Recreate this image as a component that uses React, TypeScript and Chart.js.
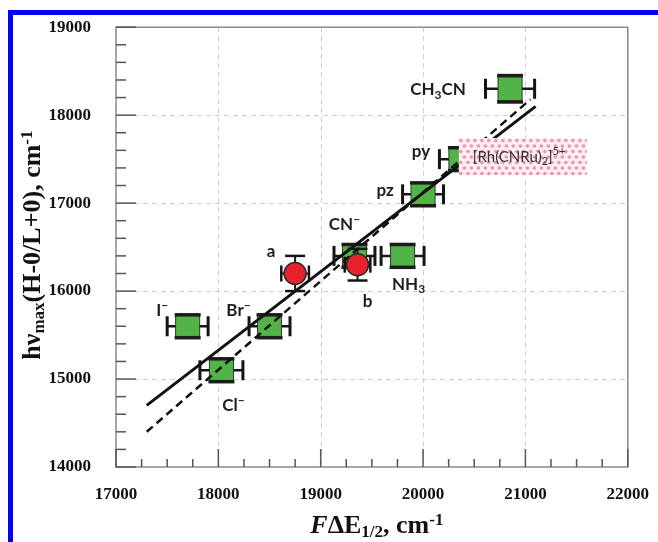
import React, { useEffect, useRef } from 'react';
import { Chart, registerables } from 'chart.js';
Chart.register(...registerables);

// ---- data ----
const ligandX = [17700, 18500, 18030, 19330, 19800, 20000, 20370, 20850];
const ligandY = [15600, 15600, 15100, 16400, 16400, 17100, 17500, 18300];
const ligandXErr = [200, 200, 210, 200, 210, 200, 210, 240];
const ligandYErr = [130, 130, 130, 130, 130, 130, 130, 150];

const complexX = [18750, 19360];
const complexY = [16200, 16300];
const complexXErr = [135, 125];
const complexYErr = [200, 180];

const solidFitX = [17300, 21100];
const solidFitY = [14700, 18100];
const dashedFitX = [17300, 21050];
const dashedFitY = [14400, 18180];

const rhBandX = [20350, 21600];
const rhBandY = [17320, 17740];

const xTicks = [17000, 18000, 19000, 20000, 21000, 22000];
const yTicks = [14000, 15000, 16000, 17000, 18000, 19000];
const xMinorStep = 250;
const yMinorStep = 200;

type Seg = { t: string; s?: 'sub' | 'sup'; italic?: boolean };

const ligandLabels: Seg[][] = [
  [{ t: 'I' }, { t: '−', s: 'sup' }],
  [{ t: 'Br' }, { t: '−', s: 'sup' }],
  [{ t: 'Cl' }, { t: '−', s: 'sup' }],
  [{ t: 'CN' }, { t: '−', s: 'sup' }],
  [{ t: 'NH' }, { t: '3', s: 'sub' }],
  [{ t: 'pz' }],
  [{ t: 'py' }],
  [{ t: 'CH' }, { t: '3', s: 'sub' }, { t: 'CN' }],
];
const complexLabels: Seg[][] = [[{ t: 'a' }], [{ t: 'b' }]];
const rhLabel: Seg[] = [{ t: '[Rh(CNRu)' }, { t: '2', s: 'sub' }, { t: ']' }, { t: '5+', s: 'sup' }];
const xTitle: Seg[] = [{ t: 'F', italic: true }, { t: 'ΔE' }, { t: '1/2', s: 'sub' }, { t: ', cm' }, { t: '-1', s: 'sup' }];
const yTitle: Seg[] = [{ t: 'hν' }, { t: 'max', s: 'sub' }, { t: '(H-0/L+0), cm' }, { t: '-1', s: 'sup' }];

// ---- styles (pixel offsets of labels: center-x offset, baseline offset) ----
const ligandLabelOffsets = [
  [-25.5, -10.5], [-31, -10], [12, 40.5], [-10, -26], [6, 34], [-38, 2], [-40, -2.5], [-72, 6.5],
];
const complexLabelOffsets = [[-24, -16], [10, 42.5]];

const SERIF = "'Liberation Serif', 'Times New Roman', serif";
const SANS = "Lato, 'Open Sans', sans-serif";

function drawRich(
  ctx: CanvasRenderingContext2D, segs: Seg[], x: number, y: number, size: number,
  family: string, weight: string, align: 'center' | 'left', color: string,
  subShift = 0.2, supShift = 0.4, ratio = 0.65,
) {
  const fontFor = (s: Seg) =>
    `${s.italic ? 'italic ' : ''}${weight} ${s.s ? Math.round(size * ratio) : size}px ${family}`;
  let total = 0;
  const widths = segs.map((s) => {
    ctx.font = fontFor(s);
    const w = ctx.measureText(s.t).width;
    total += w;
    return w;
  });
  let cx = align === 'center' ? x - total / 2 : x;
  ctx.fillStyle = color;
  ctx.textAlign = 'left';
  segs.forEach((s, i) => {
    ctx.font = fontFor(s);
    const dy = s.s === 'sub' ? size * subShift : s.s === 'sup' ? -size * supShift : 0;
    ctx.fillText(s.t, cx, y + dy);
    cx += widths[i];
  });
}

const decorPlugin = {
  id: 'decor',
  beforeDraw(chart: any) {
    const ctx = chart.ctx as CanvasRenderingContext2D;
    ctx.save();
    ctx.fillStyle = '#ffffff';
    ctx.fillRect(0, 0, chart.width, chart.height);
    ctx.fillStyle = '#0000ff';
    ctx.fillRect(8, 10, chart.width - 8, 5);
    ctx.fillRect(8, 10, 5, chart.height - 10);
    ctx.restore();
  },
  beforeDatasetsDraw(chart: any) {
    const ctx = chart.ctx as CanvasRenderingContext2D;
    const xs = chart.scales.x;
    const ys = chart.scales.y;
    const { left, right, top, bottom } = chart.chartArea;
    ctx.save();
    ctx.strokeStyle = '#cfcfcf';
    ctx.lineWidth = 1;
    ctx.setLineDash([5, 4]);
    yTicks.slice(1, -1).forEach((v) => {
      const p = Math.round(ys.getPixelForValue(v)) + 0.5;
      ctx.beginPath(); ctx.moveTo(left, p); ctx.lineTo(right, p); ctx.stroke();
    });
    xTicks.slice(1, -1).forEach((v) => {
      const p = Math.round(xs.getPixelForValue(v)) + 0.5;
      ctx.beginPath(); ctx.moveTo(p, top); ctx.lineTo(p, bottom); ctx.stroke();
    });
    ctx.setLineDash([]);
    ctx.strokeStyle = '#8a8a8a';
    ctx.lineWidth = 1.5;
    ctx.strokeRect(left, top, right - left, bottom - top);
    ctx.strokeStyle = '#555';
    ctx.lineWidth = 1.5;
    for (let v = yTicks[0]; v <= yTicks[yTicks.length - 1]; v += yMinorStep) {
      const p = ys.getPixelForValue(v);
      const major = yTicks.includes(v);
      ctx.beginPath(); ctx.moveTo(left, p); ctx.lineTo(left + (major ? 20 : 10), p); ctx.stroke();
    }
    for (let v = xTicks[0]; v <= xTicks[xTicks.length - 1]; v += xMinorStep) {
      const p = xs.getPixelForValue(v);
      const major = xTicks.includes(v);
      ctx.beginPath(); ctx.moveTo(p, bottom); ctx.lineTo(p, bottom - (major ? 18 : 8)); ctx.stroke();
    }
    ctx.restore();
  },
  beforeDatasetDraw(chart: any, args: any) {
    const ctx = chart.ctx as CanvasRenderingContext2D;
    const xs = chart.scales.x;
    const ys = chart.scales.y;
    const ds = chart.data.datasets[args.index];
    ctx.save();
    ctx.strokeStyle = '#151515';
    if (ds.label === 'ligands') {
      ligandX.forEach((x, i) => {
        const py = ys.getPixelForValue(ligandY[i]);
        const x1 = xs.getPixelForValue(x - ligandXErr[i]);
        const x2 = xs.getPixelForValue(x + ligandXErr[i]);
        ctx.lineWidth = 2.5;
        ctx.beginPath(); ctx.moveTo(x1, py); ctx.lineTo(x2, py); ctx.stroke();
        ctx.lineWidth = 3;
        [x1, x2].forEach((xx) => {
          ctx.beginPath(); ctx.moveTo(xx, py - 10); ctx.lineTo(xx, py + 10); ctx.stroke();
        });
      });
    }
    if (ds.label === 'complexes') {
      complexX.forEach((x, i) => {
        const px = xs.getPixelForValue(x);
        const py = ys.getPixelForValue(complexY[i]);
        const x1 = xs.getPixelForValue(x - complexXErr[i]);
        const x2 = xs.getPixelForValue(x + complexXErr[i]);
        const y1 = ys.getPixelForValue(complexY[i] + complexYErr[i]);
        const y2 = ys.getPixelForValue(complexY[i] - complexYErr[i]);
        ctx.lineWidth = 2;
        ctx.beginPath(); ctx.moveTo(x1, py); ctx.lineTo(x2, py); ctx.stroke();
        ctx.beginPath(); ctx.moveTo(px, y1); ctx.lineTo(px, y2); ctx.stroke();
        ctx.lineWidth = 2.5;
        [x1, x2].forEach((xx) => {
          ctx.beginPath(); ctx.moveTo(xx, py - 8); ctx.lineTo(xx, py + 8); ctx.stroke();
        });
        [y1, y2].forEach((yy) => {
          ctx.beginPath(); ctx.moveTo(px - 10, yy); ctx.lineTo(px + 10, yy); ctx.stroke();
        });
      });
    }
    ctx.restore();
  },
  afterDatasetDraw(chart: any, args: any) {
    const ctx = chart.ctx as CanvasRenderingContext2D;
    const xs = chart.scales.x;
    const ys = chart.scales.y;
    const ds = chart.data.datasets[args.index];
    if (ds.label !== 'ligands') return;
    ctx.save();
    ctx.strokeStyle = '#1c1c1c';
    ctx.lineWidth = 3.5;
    ligandX.forEach((x, i) => {
      const px = xs.getPixelForValue(x);
      [ligandY[i] + ligandYErr[i], ligandY[i] - ligandYErr[i]].forEach((v) => {
        const yy = ys.getPixelForValue(v);
        ctx.beginPath(); ctx.moveTo(px - 13, yy); ctx.lineTo(px + 13, yy); ctx.stroke();
      });
    });
    ctx.restore();
  },
  afterDatasetsDraw(chart: any) {
    const ctx = chart.ctx as CanvasRenderingContext2D;
    const xs = chart.scales.x;
    const ys = chart.scales.y;
    ctx.save();
    const bx1 = xs.getPixelForValue(rhBandX[0]);
    const bx2 = xs.getPixelForValue(rhBandX[1]);
    const by1 = ys.getPixelForValue(rhBandY[1]);
    const by2 = ys.getPixelForValue(rhBandY[0]);
    ctx.fillStyle = '#fdeef2';
    ctx.fillRect(bx1, by1, bx2 - bx1, by2 - by1);
    ctx.beginPath();
    ctx.rect(bx1, by1, bx2 - bx1, by2 - by1);
    ctx.clip();
    ctx.fillStyle = '#ee93ab';
    let row = 0;
    for (let yy = by1 + 2.5; yy < by2 + 2; yy += 5.5, row++) {
      for (let xx = bx1 + 2 + (row % 2) * 3.5; xx < bx2 + 2; xx += 7) {
        ctx.beginPath(); ctx.arc(xx, yy, 1.8, 0, Math.PI * 2); ctx.fill();
      }
    }
    ctx.restore();
    ctx.save();
    ctx.textBaseline = 'alphabetic';
    drawRich(ctx, rhLabel, bx1 + 14, (by1 + by2) / 2 + 5.5, 15, SANS, '400', 'left', '#2e2e2e', 0.2, 0.45, 0.7);
    ligandX.forEach((x, i) => {
      const px = xs.getPixelForValue(x) + ligandLabelOffsets[i][0];
      const py = ys.getPixelForValue(ligandY[i]) + ligandLabelOffsets[i][1];
      drawRich(ctx, ligandLabels[i], px, py, 17, SANS, '700', 'center', '#1e1e1e', 0.2, 0.42, 0.7);
    });
    complexX.forEach((x, i) => {
      const px = xs.getPixelForValue(x) + complexLabelOffsets[i][0];
      const py = ys.getPixelForValue(complexY[i]) + complexLabelOffsets[i][1];
      drawRich(ctx, complexLabels[i], px, py, 17, SANS, '700', 'center', '#1e1e1e');
    });
    ctx.restore();
  },
  afterDraw(chart: any) {
    const ctx = chart.ctx as CanvasRenderingContext2D;
    const { left, right, top, bottom } = chart.chartArea;
    ctx.save();
    ctx.textBaseline = 'alphabetic';
    drawRich(ctx, xTitle, (left + right) / 2 + 5, 533, 26, SERIF, '700', 'center', '#111', 0.15, 0.3, 0.65);
    ctx.translate(40, (top + bottom) / 2 - 2);
    ctx.rotate(-Math.PI / 2);
    drawRich(ctx, yTitle, 0, 0, 26, SERIF, '700', 'center', '#111', 0.15, 0.3, 0.65);
    ctx.restore();
  },
};

export default function App() {
  const ref = useRef<HTMLCanvasElement | null>(null);
  useEffect(() => {
    if (!ref.current) return;
    const tickFont = { family: SERIF, size: 17, weight: 'bold' as const };
    const chart = new Chart(ref.current, {
      type: 'scatter',
      data: {
        datasets: [
          {
            label: 'complexes',
            data: complexX.map((x, i) => ({ x, y: complexY[i] })),
            pointStyle: 'circle',
            pointRadius: 11,
            backgroundColor: '#e8222c',
            borderColor: '#2a2a2a',
            borderWidth: 1.5,
            order: 0,
          },
          {
            label: 'fitSolid',
            data: solidFitX.map((x, i) => ({ x, y: solidFitY[i] })),
            showLine: true,
            pointRadius: 0,
            borderColor: '#111',
            borderWidth: 3,
            order: 1,
          },
          {
            label: 'fitDashed',
            data: dashedFitX.map((x, i) => ({ x, y: dashedFitY[i] })),
            showLine: true,
            pointRadius: 0,
            borderColor: '#111',
            borderWidth: 2.5,
            borderDash: [8, 5],
            order: 2,
          },
          {
            label: 'ligands',
            data: ligandX.map((x, i) => ({ x, y: ligandY[i] })),
            pointStyle: 'rect',
            pointRadius: 17,
            backgroundColor: '#52b447',
            borderColor: '#333',
            borderWidth: 1,
            order: 3,
          },
        ],
      },
      options: {
        animation: false,
        responsive: false,
        devicePixelRatio: 1,
        layout: { padding: { top: 23, right: 21, left: 0, bottom: 0 } },
        plugins: { legend: { display: false }, tooltip: { enabled: false } },
        scales: {
          x: {
            type: 'linear',
            min: xTicks[0],
            max: xTicks[xTicks.length - 1],
            afterBuildTicks: (s: any) => { s.ticks = xTicks.map((v) => ({ value: v })); },
            afterFit: (s: any) => { s.height = 75; },
            grid: { display: false },
            border: { display: false },
            ticks: { font: tickFont, color: '#111', padding: 9, maxRotation: 0, callback: (v: any) => String(v) },
          },
          y: {
            type: 'linear',
            min: yTicks[0],
            max: yTicks[yTicks.length - 1],
            afterBuildTicks: (s: any) => { s.ticks = yTicks.map((v) => ({ value: v })); },
            afterFit: (s: any) => { s.width = 116; },
            grid: { display: false },
            border: { display: false },
            ticks: { font: tickFont, color: '#111', padding: 17, callback: (v: any) => String(v) },
          },
        },
      },
      plugins: [decorPlugin],
    });
    return () => chart.destroy();
  }, []);
  return (
    <div style={{ position: 'fixed', left: 0, top: 0, width: 658, height: 542 }}>
      <canvas ref={ref} width={658} height={542} style={{ display: 'block' }} />
    </div>
  );
}
